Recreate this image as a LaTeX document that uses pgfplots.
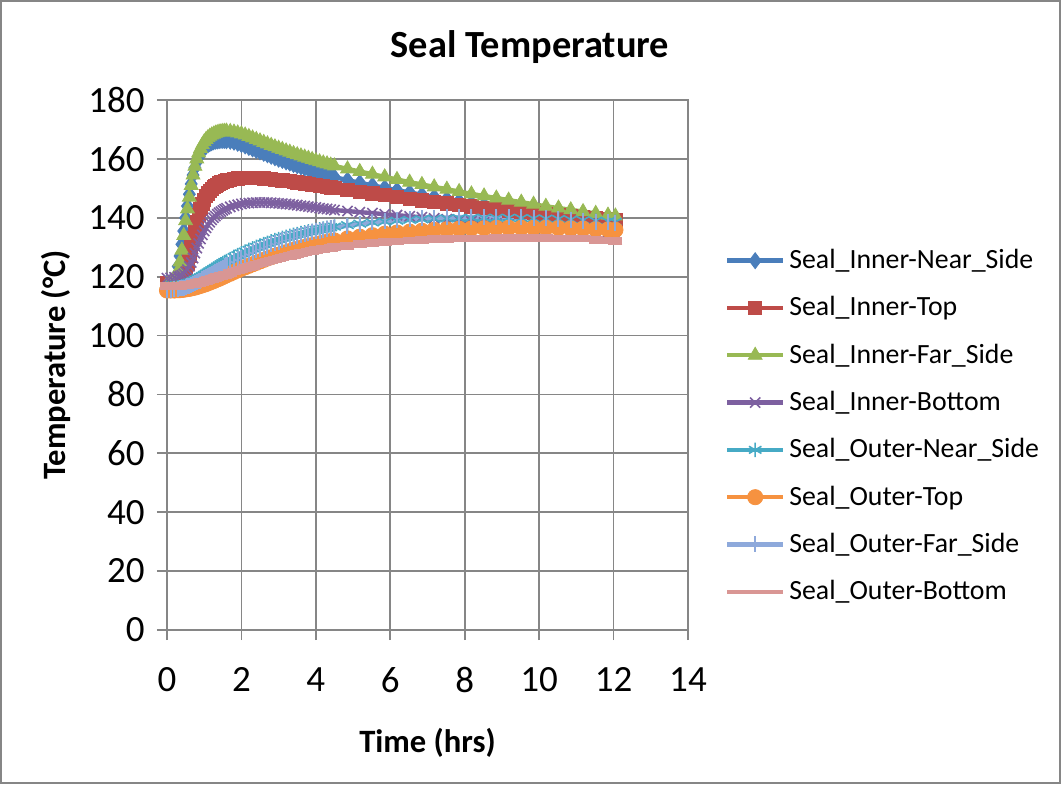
\documentclass[border=0pt]{standalone}
\usepackage{fontspec}
\setmainfont{Carlito}
\usepackage{pgfplots}
\usepackage{pgfplotstable}
\pgfplotsset{compat=1.18}
\definecolor{cBlue}{HTML}{4A7EBB}
\definecolor{cRed}{HTML}{BE4B48}
\definecolor{cGreen}{HTML}{98B954}
\definecolor{cPurple}{HTML}{7D60A0}
\definecolor{cTeal}{HTML}{46AAC5}
\definecolor{cOrange}{HTML}{F69240}
\definecolor{cLBlue}{HTML}{8EA9DB}
\definecolor{cPink}{HTML}{D99694}
\definecolor{gridgray}{HTML}{868686}
\pgfplotstableread{
t B R G P T O L K
0 118.0 118.0 117.5 119.5 116.0 115.3 115.5 116.8
0.1 118.2 118.0 117.8 119.6 116.1 115.3 115.6 116.8
0.2 119.5 118.2 118.5 119.8 116.2 115.3 115.7 116.8
0.3 123.5 118.8 122.0 120.0 116.4 115.4 115.9 116.9
0.35 127.0 119.3 125.0 120.2 116.5 115.4 116.0 116.9
0.4 131.0 120.0 129.0 120.5 116.7 115.5 116.2 117.0
0.45 135.5 121.0 134.0 121.0 116.9 115.6 116.3 117.0
0.5 140.0 122.5 139.0 121.6 117.1 115.7 116.5 117.1
0.55 144.0 124.5 143.0 122.4 117.4 115.8 116.7 117.2
0.6 148.0 127.0 147.0 123.5 117.7 115.9 117.0 117.3
0.65 151.5 130.0 151.0 124.8 118.0 116.0 117.2 117.4
0.7 154.5 133.0 154.5 126.3 118.3 116.2 117.5 117.5
0.75 157.0 136.0 157.5 128.0 118.7 116.3 117.8 117.6
0.8 159.0 138.7 160.0 129.7 119.0 116.5 118.1 117.8
0.85 160.6 141.0 162.0 131.3 119.4 116.7 118.4 117.9
0.9 161.9 143.0 163.5 132.8 119.8 116.9 118.7 118.1
0.95 162.9 144.7 164.8 134.2 120.2 117.1 119.1 118.2
1.0 163.7 146.1 165.8 135.5 120.6 117.3 119.4 118.4
1.05 164.3 147.3 166.6 136.6 121.0 117.5 119.8 118.6
1.1 164.8 148.3 167.2 137.6 121.4 117.8 120.1 118.8
1.15 165.2 149.1 167.7 138.5 121.8 118.0 120.5 119.0
1.2 165.5 149.8 168.1 139.3 122.2 118.3 120.9 119.2
1.25 165.8 150.4 168.4 140.0 122.6 118.5 121.2 119.4
1.3 166.0 150.9 168.7 140.6 123.0 118.8 121.6 119.6
1.35 166.1 151.3 168.9 141.2 123.4 119.1 122.0 119.8
1.4 166.2 151.7 169.1 141.7 123.8 119.3 122.4 120.0
1.45 166.3 152.0 169.2 142.1 124.2 119.6 122.7 120.2
1.5 166.3 152.3 169.3 142.5 124.6 119.9 123.1 120.4
1.55 166.3 152.5 169.35 142.9 125.0 120.2 123.5 120.6
1.6 166.2 152.7 169.4 143.2 125.3 120.5 123.8 120.8
1.7 166.0 153.0 169.3 143.7 126.0 121.0 124.5 121.3
1.8 165.7 153.2 169.1 144.1 126.7 121.6 125.2 121.7
1.9 165.3 153.4 168.8 144.4 127.3 122.1 125.9 122.1
2.0 164.9 153.5 168.5 144.7 127.9 122.7 126.5 122.5
2.1 164.4 153.6 168.1 144.9 128.5 123.2 127.2 122.9
2.2 163.9 153.6 167.6 145.0 129.1 123.7 127.8 123.3
2.3 163.4 153.6 167.1 145.1 129.6 124.2 128.4 123.7
2.4 162.9 153.6 166.6 145.2 130.1 124.7 128.9 124.1
2.5 162.4 153.5 166.1 145.2 130.6 125.2 129.5 124.5
2.6 161.9 153.4 165.6 145.2 131.1 125.7 130.0 124.8
2.7 161.4 153.3 165.1 145.2 131.5 126.2 130.5 125.2
2.8 160.9 153.2 164.6 145.1 132.0 126.6 131.0 125.5
2.9 160.4 153.0 164.1 145.0 132.4 127.1 131.4 125.9
3.0 159.9 152.9 163.6 144.9 132.8 127.5 131.9 126.2
3.1 159.5 152.7 163.2 144.8 133.2 127.9 132.3 126.5
3.2 159.0 152.6 162.7 144.7 133.5 128.3 132.7 126.8
3.3 158.6 152.4 162.3 144.6 133.9 128.7 133.1 127.1
3.4 158.1 152.2 161.8 144.4 134.2 129.1 133.5 127.4
3.5 157.7 152.0 161.4 144.3 134.5 129.4 133.8 127.7
3.6 157.3 151.9 161.0 144.1 134.8 129.8 134.2 128.0
3.7 156.9 151.7 160.6 144.0 135.1 130.1 134.5 128.2
3.8 156.5 151.5 160.2 143.8 135.4 130.4 134.8 128.5
3.9 156.1 151.3 159.8 143.6 135.6 130.7 135.1 128.7
4.0 155.7 151.1 159.4 143.5 135.9 131.0 135.4 129.0
4.1 155.3 150.9 159.0 143.3 136.1 131.3 135.6 129.2
4.2 154.9 150.7 158.6 143.1 136.3 131.6 135.9 129.4
4.3 154.5 150.5 158.3 143.0 136.6 131.8 136.1 129.6
4.4 154.2 150.3 157.9 142.8 136.8 132.1 136.4 129.8
4.5 153.8 150.1 157.6 142.6 137.0 132.3 136.6 130.0
4.85 152.8 149.5 156.6 142.3 137.5 133.0 137.3 130.5
5.18 151.9 148.9 155.7 141.9 138.0 133.6 137.9 131.0
5.52 151.0 148.3 154.8 141.6 138.4 134.1 138.4 131.4
5.85 150.2 147.7 153.9 141.2 138.7 134.6 138.8 131.7
6.18 149.4 147.1 153.0 140.9 139.0 135.0 139.2 132.0
6.52 148.6 146.5 152.1 140.5 139.3 135.3 139.5 132.3
6.85 147.8 145.9 151.3 140.2 139.5 135.6 139.8 132.5
7.18 147.1 145.4 150.5 139.8 139.7 135.9 140.0 132.7
7.52 146.4 144.9 149.7 139.5 139.8 136.1 140.1 132.8
7.85 145.7 144.4 148.9 139.1 139.9 136.3 140.2 132.9
8.18 145.0 143.9 148.1 138.8 140.0 136.4 140.3 133.0
8.52 144.4 143.4 147.4 138.4 140.0 136.5 140.3 133.0
8.85 143.8 142.9 146.7 138.1 140.0 136.6 140.3 133.1
9.18 143.2 142.5 146.0 137.7 140.0 136.6 140.2 133.1
9.52 142.6 142.1 145.3 137.4 139.9 136.6 140.1 133.1
9.85 142.1 141.7 144.6 137.0 139.8 136.6 140.0 133.1
10.18 141.6 141.3 143.9 136.7 139.7 136.6 139.8 133.1
10.52 141.1 140.9 143.3 136.3 139.6 136.5 139.6 133.0
10.85 140.6 140.5 142.7 136.0 139.4 136.4 139.4 133.0
11.18 140.2 140.2 142.1 135.6 139.2 136.3 139.0 132.9
11.52 139.8 139.9 141.5 135.3 139.0 136.1 138.6 132.5
11.85 139.4 139.6 140.9 134.9 138.8 136.0 138.4 132.3
12.05 139.2 139.4 140.6 134.7 138.6 135.9 138.3 132.2
}\data
\begin{document}
\begin{tikzpicture}
\useasboundingbox (-83.5pt,-77pt) rectangle (447pt,315pt);
\draw[gridgray, line width=0.8pt] (-83.1pt,-76.6pt) rectangle (446.6pt,314.6pt);
\begin{axis}[
  scale only axis, width=260.5pt, height=265pt,
  xmin=0, xmax=14, ymin=0, ymax=180,
  xtick={0,2,...,14}, ytick={0,20,...,180},
  grid=major,
  grid style={draw=gridgray, line width=0.9pt},
  axis line style={draw=gridgray, line width=0.9pt},
  tick style={draw=gridgray, line width=0.9pt},
  tick align=outside, major tick length=5pt,
  xtick pos=bottom, ytick pos=left,
  clip=false,
  /pgf/number format/assume math mode=true,
  tick label style={font=\fontsize{18.5}{20}\selectfont},
  xticklabel style={anchor=north, inner sep=0pt, yshift=-13.5pt},
  yticklabel style={anchor=east, inner sep=0pt, xshift=-6pt},
  title={Seal Temperature},
  title style={at={(axis description cs:0.6967,1.077)}, anchor=center, inner sep=0pt, font=\fontsize{19.2}{23}\selectfont\bfseries},
  xlabel={Time (hrs)},
  xlabel style={at={(axis description cs:0.5,-0.2132)}, anchor=center, inner sep=0pt, font=\fontsize{16.3}{19}\selectfont\bfseries},
  ylabel={Temperature (°C)},
  ylabel style={at={(axis description cs:-0.2135,0.5)}, anchor=center, rotate=0, inner sep=0pt, font=\fontsize{16.3}{19}\selectfont\bfseries},
  legend style={draw=none, fill=none, inner sep=0pt, outer sep=0pt,
    at={(axis description cs:1.071,0.3845)}, anchor=west,
    font=\fontsize{13.9}{16}\selectfont, row sep=11.65pt,
    nodes={inner sep=0pt, text height=10pt, text depth=2pt},
    /tikz/every odd column/.append style={column sep=2pt}},
  legend cell align=left,
  legend image code/.code={\draw[mark repeat=2,mark phase=2,#1] plot coordinates {(0pt,0pt) (14pt,0pt) (28pt,0pt)};},
  every axis plot/.append style={line width=2.2pt},
]
\addplot[cBlue, mark=diamond*, mark size=4pt, mark options={solid, fill=cBlue, draw=cBlue, line width=0.4pt}] table[x=t,y=B]{\data};
\addlegendentry{Seal\_Inner-Near\_Side}
\addplot[cRed, mark=square*, mark size=3.3pt, mark options={solid, fill=cRed, draw=cRed, line width=0.4pt}] table[x=t,y=R]{\data};
\addlegendentry{Seal\_Inner-Top}
\addplot[cGreen, mark=triangle*, mark size=4pt, mark options={solid, fill=cGreen, draw=cGreen, line width=0.4pt}] table[x=t,y=G]{\data};
\addlegendentry{Seal\_Inner-Far\_Side}
\addplot[cPurple, mark=x, mark size=3.6pt, mark options={solid, draw=cPurple, line width=0.8pt}] table[x=t,y=P]{\data};
\addlegendentry{Seal\_Inner-Bottom}
\addplot[cTeal, mark=asterisk, mark size=3.6pt, mark options={solid, draw=cTeal, line width=0.8pt}] table[x=t,y=T]{\data};
\addlegendentry{Seal\_Outer-Near\_Side}
\addplot[cOrange, mark=*, mark size=3.8pt, mark options={solid, fill=cOrange, draw=cOrange, line width=0.4pt}] table[x=t,y=O]{\data};
\addlegendentry{Seal\_Outer-Top}
\addplot[cLBlue, mark=|, mark size=4pt, mark options={solid, draw=cLBlue, line width=1pt}] table[x=t,y=L]{\data};
\addlegendentry{Seal\_Outer-Far\_Side}
\addplot[cPink, mark=-, mark size=3.5pt, mark options={solid, draw=cPink, line width=3.8pt}, legend image post style={mark=none}] table[x=t,y=K]{\data};
\addlegendentry{Seal\_Outer-Bottom}
\end{axis}
\end{tikzpicture}
\end{document}
